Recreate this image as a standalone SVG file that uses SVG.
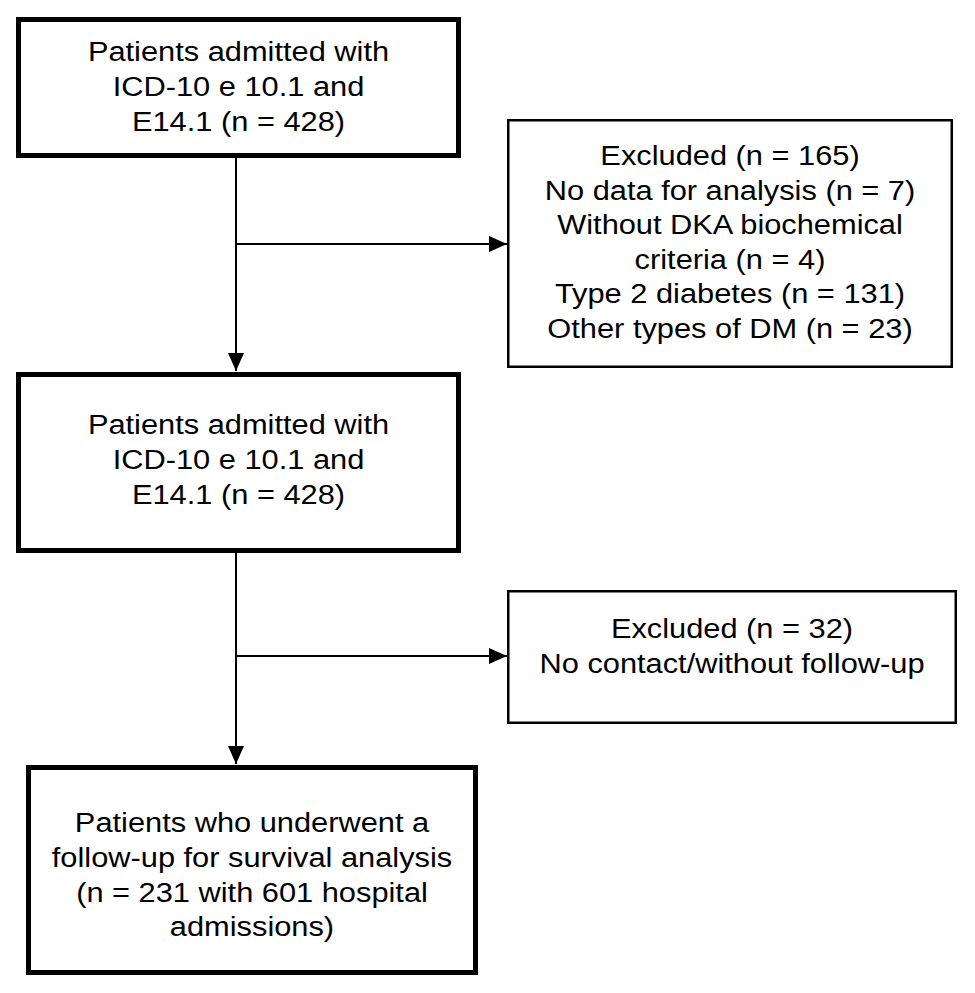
<svg xmlns="http://www.w3.org/2000/svg" width="975" height="993" viewBox="0 0 975 993">
<style>
.thick{fill:#fff;stroke:#000;stroke-width:5}
.thin{fill:#fff;stroke:#000;stroke-width:2.5}
.t{font-family:"Liberation Sans",Arial,sans-serif;font-size:28px;fill:#000;text-anchor:middle}
.c{stroke:#000;stroke-width:2;fill:none}
</style>
<defs>
<marker id="ah" viewBox="0 0 18 16" refX="18" refY="8" markerWidth="18" markerHeight="16" orient="auto" markerUnits="userSpaceOnUse"><path d="M0,0 L18,8 L0,16 z" fill="#000"/></marker>
</defs>
<rect width="975" height="993" fill="#fff"/>
<g id="connectors">
<line class="c" x1="236" y1="158" x2="236" y2="371" marker-end="url(#ah)"/>
<line class="c" x1="236" y1="244" x2="507" y2="244" marker-end="url(#ah)"/>
<line class="c" x1="236" y1="553" x2="236" y2="764" marker-end="url(#ah)"/>
<line class="c" x1="236" y1="656" x2="507" y2="656" marker-end="url(#ah)"/>
</g>
<g id="admitted1">
<rect class="thick" x="18.5" y="19.5" width="440" height="136"/>
<g transform="translate(238.5 0) scale(1.1 1)">
<text class="t" x="0" y="61">Patients admitted with</text>
<text class="t" x="0" y="96">ICD-10 e 10.1 and</text>
<text class="t" x="0" y="131">E14.1 (n = 428)</text>
</g>
</g>
<g id="excluded1">
<rect class="thin" x="508.25" y="120.25" width="443.5" height="246.5"/>
<g transform="translate(730 0) scale(1.1 1)">
<text class="t" x="0" y="165">Excluded (n = 165)</text>
<text class="t" x="0" y="200">No data for analysis (n = 7)</text>
<text class="t" x="0" y="234">Without DKA biochemical</text>
<text class="t" x="0" y="269">criteria (n = 4)</text>
<text class="t" x="0" y="303">Type 2 diabetes (n = 131)</text>
<text class="t" x="0" y="338">Other types of DM (n = 23)</text>
</g>
</g>
<g id="admitted2">
<rect class="thick" x="18.5" y="374.5" width="440" height="176"/>
<g transform="translate(238.5 0) scale(1.1 1)">
<text class="t" x="0" y="434">Patients admitted with</text>
<text class="t" x="0" y="469">ICD-10 e 10.1 and</text>
<text class="t" x="0" y="504">E14.1 (n = 428)</text>
</g>
</g>
<g id="excluded2">
<rect class="thin" x="508.25" y="591.25" width="447.5" height="131.5"/>
<g transform="translate(732 0) scale(1.1 1)">
<text class="t" x="0" y="638">Excluded (n = 32)</text>
<text class="t" x="0" y="673">No contact/without follow-up</text>
</g>
</g>
<g id="followup">
<rect class="thick" x="28.5" y="767.5" width="447" height="205"/>
<g transform="translate(252 0) scale(1.1 1)">
<text class="t" x="0" y="832">Patients who underwent a</text>
<text class="t" x="0" y="867">follow-up for survival analysis</text>
<text class="t" x="0" y="902">(n = 231 with 601 hospital</text>
<text class="t" x="0" y="936">admissions)</text>
</g>
</g>
</svg>
